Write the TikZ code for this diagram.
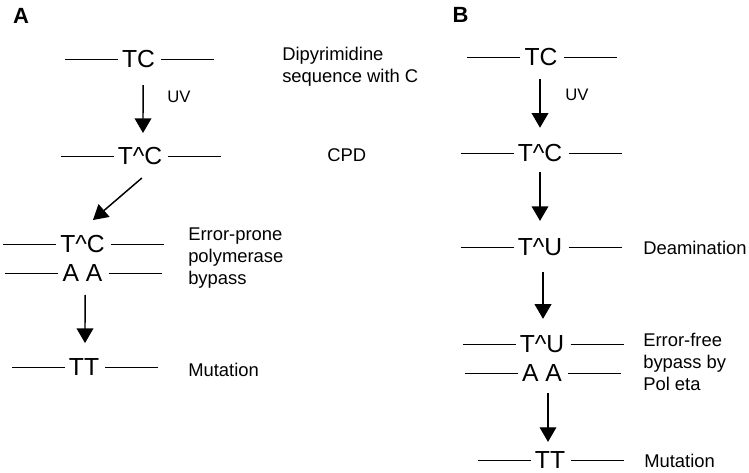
\documentclass[tikz,border=0pt]{standalone}
\usepackage{fontspec}
\setmainfont{Liberation Sans}
\usetikzlibrary{arrows.meta}

\begin{document}
\begin{tikzpicture}[x=0.75pt, y=-0.75pt,
		base/.style={inner sep=0pt, font=\fontsize{18.5}{22}\selectfont},
		note/.style={inner sep=0pt, align=left, font=\fontsize{13.8}{16.5}\selectfont},
		agent/.style={note, font=\fontsize{12.5}{15}\selectfont},
		panel/.style={inner sep=0pt, font=\fontsize{16.5}{19}\selectfont\bfseries},
		strand/.style={line width=0.7pt},
		arr/.style={-{Triangle[width=12.5pt,length=11pt]}, line width=1.1pt}]
	\useasboundingbox (0,0) rectangle (749,472);

	% Nodes, panel A
	\node[panel] (pa) at (21,16) {A};
	\node[base] (aTC) at (138.5,59) {TC};
	\node[base] (aCPD) at (140,156) {T\textasciicircum C};
	\node[base] (aPair) at (82.5,244) {T\textasciicircum C};
	\node[base] (aAA) at (82.5,273) {A A};
	\node[base] (aTT) at (84,367) {TT};

	\node[note, anchor=north west] (aSeq) at (282,47) {Dipyrimidine\\sequence with C};
	\node[agent, anchor=west] (aUV) at (167,96.5) {UV};
	\node[note, anchor=west] (aLes) at (327,155.5) {CPD};
	\node[note, anchor=north west] (aByp) at (188,228) {Error-prone\\polymerase\\bypass};
	\node[note, anchor=west] (aMut) at (188,370) {Mutation};

	% Nodes, panel B
	\node[panel] (pb) at (460.5,14.5) {B};
	\node[base] (bTC) at (541,57) {TC};
	\node[base] (bCPD) at (540,153) {T\textasciicircum C};
	\node[base] (bTU) at (540,247) {T\textasciicircum U};
	\node[base] (bPair) at (542,344) {T\textasciicircum U};
	\node[base] (bAA) at (542,373) {A A};
	\node[base] (bTT) at (550,460) {TT};

	\node[agent, anchor=west] (bUV) at (565,95) {UV};
	\node[note, anchor=west] (bDeam) at (643,247.5) {Deamination};
	\node[note, anchor=north west] (bByp) at (643,333) {Error-free\\bypass by\\Pol eta};
	\node[note, anchor=west] (bMut) at (644,461) {Mutation};

	% DNA strands
	\foreach \n in {aTC,aCPD,aPair,aAA,aTT,bTC,bCPD,bTU,bPair,bAA,bTT}{
		\draw[strand] (\n.west) ++(-4,0) -- ++(-53,0);
		\draw[strand] (\n.east) ++(6,0) -- ++(53,0);
	}

	% Arrows
	\draw[arr, shorten <=12.75pt, shorten >=10.5pt] ([xshift=3.4pt]aTC.south) -- ([xshift=2.25pt]aCPD.north);
	\draw[arr, shorten <=15pt, shorten >=17.25pt] ([xshift=12.75pt]aCPD.south) -- ([xshift=-5.25pt]aPair.north);
	\draw[arr, shorten <=9.9pt, shorten >=11.4pt] ([xshift=1.9pt]aAA.south) -- ([xshift=0.75pt]aTT.north);

	\draw[arr, shorten <=9.9pt, shorten >=12.2pt] ([xshift=-0.75pt]bTC.south) -- (bCPD.north);
	\draw[arr, shorten <=7.7pt, shorten >=12.9pt] (bCPD.south) -- (bTU.north);
	\draw[arr, shorten <=12.2pt, shorten >=12.2pt] ([xshift=2.25pt]bTU.south) -- ([xshift=0.75pt]bPair.north);
	\draw[arr, shorten <=8.4pt, shorten >=7pt] ([xshift=4.5pt]bAA.south) -- ([xshift=-1.5pt]bTT.north);
\end{tikzpicture}
\end{document}
